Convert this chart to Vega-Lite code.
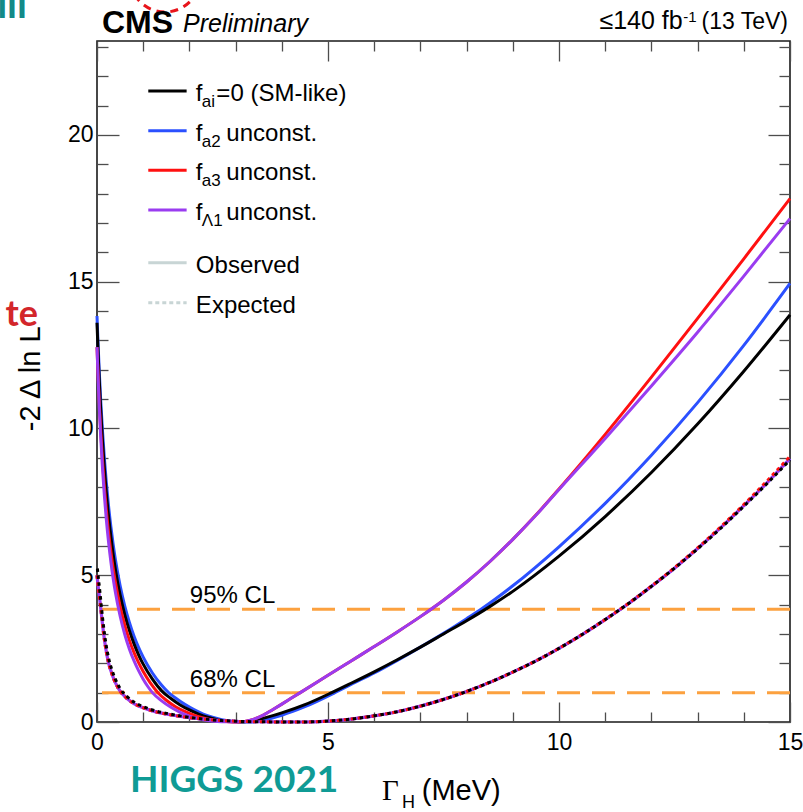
{
  "$schema": "https://vega.github.io/schema/vega-lite/v6.json",
  "width": 693,
  "height": 681,
  "autosize": {"type": "none"},
  "padding": {"left": 97, "top": 41, "right": 13, "bottom": 90},
  "background": "white",
  "config": {
    "view": {"stroke": "#1a1a1a", "strokeWidth": 1.6},
    "axis": {"domain": false, "grid": false, "tickColor": "#4d4d4d", "tickWidth": 1.3, "labelFont": "Liberation Sans", "labelFontSize": 23, "labelColor": "#000", "labelFlush": false, "labelOverlap": false, "labelBound": false},
    "text": {"font": "Liberation Sans", "color": "#000"}
  },
  "data": {"values": [{}]},
  "datasets": {
    "cl": [{"q": 1.0, "lab": "68% CL"}, {"q": 3.84, "lab": "95% CL"}],
    "leg1": [
      {"key": "SM", "sub": "ai", "rest": "=0 (SM-like)"},
      {"key": "a2", "sub": "a2", "rest": "unconst."},
      {"key": "a3", "sub": "a3", "rest": "unconst."},
      {"key": "L1", "sub": "Λ1", "rest": "unconst."}
    ],
    "leg2": [{"key": "Observed"}, {"key": "Expected"}],
    "obsSM": [{"g":0,"q":13.6},{"g":0.02,"q":12.74},{"g":0.05,"q":11.61},{"g":0.08,"q":10.64},{"g":0.12,"q":9.55},{"g":0.16,"q":8.63},{"g":0.2,"q":7.84},{"g":0.25,"q":7.01},{"g":0.3,"q":6.31},{"g":0.35,"q":5.71},{"g":0.4,"q":5.18},{"g":0.5,"q":4.33},{"g":0.6,"q":3.66},{"g":0.7,"q":3.12},{"g":0.8,"q":2.67},{"g":0.9,"q":2.29},{"g":1.0,"q":1.97},{"g":1.2,"q":1.46},{"g":1.4,"q":1.06},{"g":1.6,"q":0.8},{"g":1.8,"q":0.58},{"g":2.0,"q":0.41},{"g":2.2,"q":0.27},{"g":2.4,"q":0.16},{"g":2.6,"q":0.08},{"g":2.8,"q":0.03},{"g":3.0,"q":0.005},{"g":3.1,"q":0},{"g":3.5,"q":0.09},{"g":4.0,"q":0.31},{"g":4.5,"q":0.59},{"g":5.08,"q":1.0},{"g":5.5,"q":1.32},{"g":6.0,"q":1.71},{"g":6.5,"q":2.12},{"g":7.0,"q":2.55},{"g":7.5,"q":3.0},{"g":8.0,"q":3.45},{"g":8.5,"q":3.93},{"g":9.0,"q":4.45},{"g":10,"q":5.65},{"g":11,"q":7.0},{"g":12,"q":8.5},{"g":13,"q":10.15},{"g":14,"q":11.95},{"g":15,"q":13.87}],
    "obsA2": [{"g":0,"q":13.83},{"g":0.02,"q":13.0},{"g":0.05,"q":11.91},{"g":0.08,"q":10.96},{"g":0.12,"q":9.89},{"g":0.16,"q":8.98},{"g":0.2,"q":8.2},{"g":0.25,"q":7.36},{"g":0.3,"q":6.66},{"g":0.35,"q":6.05},{"g":0.4,"q":5.52},{"g":0.5,"q":4.65},{"g":0.6,"q":3.96},{"g":0.7,"q":3.4},{"g":0.8,"q":2.93},{"g":0.9,"q":2.54},{"g":1.0,"q":2.21},{"g":1.2,"q":1.67},{"g":1.4,"q":1.25},{"g":1.55,"q":1.0},{"g":1.7,"q":0.82},{"g":1.9,"q":0.6},{"g":2.1,"q":0.42},{"g":2.3,"q":0.27},{"g":2.5,"q":0.16},{"g":2.7,"q":0.08},{"g":2.9,"q":0.03},{"g":3.1,"q":0.008},{"g":3.3,"q":0},{"g":3.6,"q":0.065},{"g":4.0,"q":0.23},{"g":4.5,"q":0.52},{"g":5.15,"q":1.0},{"g":5.5,"q":1.28},{"g":6.0,"q":1.67},{"g":6.5,"q":2.1},{"g":7.0,"q":2.55},{"g":7.5,"q":3.02},{"g":8.0,"q":3.52},{"g":8.32,"q":3.85},{"g":9,"q":4.64},{"g":10,"q":5.97},{"g":11,"q":7.45},{"g":12,"q":9.09},{"g":13,"q":10.88},{"g":14,"q":12.83},{"g":15,"q":14.94}],
    "obsA3": [{"g":0,"q":12.77},{"g":0.02,"q":11.94},{"g":0.05,"q":10.86},{"g":0.08,"q":9.93},{"g":0.12,"q":8.89},{"g":0.16,"q":8.01},{"g":0.2,"q":7.26},{"g":0.25,"q":6.47},{"g":0.3,"q":5.81},{"g":0.35,"q":5.24},{"g":0.4,"q":4.75},{"g":0.5,"q":3.94},{"g":0.6,"q":3.31},{"g":0.7,"q":2.79},{"g":0.8,"q":2.37},{"g":0.9,"q":2.02},{"g":1.0,"q":1.72},{"g":1.15,"q":1.34},{"g":1.32,"q":1.0},{"g":1.5,"q":0.74},{"g":1.7,"q":0.52},{"g":1.9,"q":0.36},{"g":2.1,"q":0.23},{"g":2.3,"q":0.14},{"g":2.5,"q":0.07},{"g":2.7,"q":0.03},{"g":2.85,"q":0.01},{"g":3.03,"q":0},{"g":3.2,"q":0.021},{"g":3.4,"q":0.099},{"g":3.6,"q":0.236},{"g":3.8,"q":0.42},{"g":4.0,"q":0.61},{"g":4.2,"q":0.806},{"g":4.4,"q":1.0},{"g":5.0,"q":1.59},{"g":5.5,"q":2.08},{"g":6.0,"q":2.57},{"g":6.5,"q":3.07},{"g":7.0,"q":3.59},{"g":7.5,"q":4.15},{"g":8.0,"q":4.77},{"g":8.5,"q":5.46},{"g":9.0,"q":6.22},{"g":9.5,"q":7.05},{"g":10,"q":7.94},{"g":11,"q":9.8},{"g":12,"q":11.75},{"g":13,"q":13.75},{"g":14,"q":15.78},{"g":15,"q":17.83}],
    "obsL1": [{"g":0,"q":12.77},{"g":0.02,"q":11.86},{"g":0.05,"q":10.69},{"g":0.08,"q":9.71},{"g":0.12,"q":8.61},{"g":0.16,"q":7.7},{"g":0.2,"q":6.93},{"g":0.25,"q":6.13},{"g":0.3,"q":5.46},{"g":0.35,"q":4.89},{"g":0.4,"q":4.4},{"g":0.5,"q":3.61},{"g":0.6,"q":2.99},{"g":0.7,"q":2.49},{"g":0.8,"q":2.09},{"g":0.9,"q":1.75},{"g":1.0,"q":1.46},{"g":1.1,"q":1.21},{"g":1.2,"q":1.0},{"g":1.4,"q":0.72},{"g":1.6,"q":0.5},{"g":1.8,"q":0.33},{"g":2.0,"q":0.2},{"g":2.2,"q":0.11},{"g":2.4,"q":0.05},{"g":2.6,"q":0.02},{"g":2.8,"q":0.005},{"g":3.03,"q":0},{"g":3.2,"q":0.021},{"g":3.4,"q":0.099},{"g":3.6,"q":0.236},{"g":3.8,"q":0.42},{"g":4.0,"q":0.61},{"g":4.2,"q":0.806},{"g":4.4,"q":1.0},{"g":5.0,"q":1.59},{"g":5.5,"q":2.08},{"g":6.0,"q":2.57},{"g":6.5,"q":3.07},{"g":7.0,"q":3.59},{"g":7.5,"q":4.15},{"g":8.0,"q":4.77},{"g":8.5,"q":5.46},{"g":9.0,"q":6.22},{"g":9.5,"q":7.04},{"g":10,"q":7.92},{"g":11,"q":9.66},{"g":12,"q":11.45},{"g":13,"q":13.28},{"g":14,"q":15.19},{"g":15,"q":17.15}],
    "expSM": [{"g":0,"q":5.35},{"g":0.03,"q":4.9},{"g":0.065,"q":4.4},{"g":0.1,"q":3.85},{"g":0.14,"q":3.28},{"g":0.19,"q":2.7},{"g":0.245,"q":2.22},{"g":0.32,"q":1.79},{"g":0.4,"q":1.45},{"g":0.5,"q":1.14},{"g":0.65,"q":0.87},{"g":0.8,"q":0.68},{"g":0.93,"q":0.57},{"g":1.2,"q":0.41},{"g":1.65,"q":0.25},{"g":2.0,"q":0.16},{"g":2.37,"q":0.09},{"g":2.7,"q":0.05},{"g":3.0,"q":0.025},{"g":3.5,"q":0.008},{"g":4.0,"q":0.002},{"g":4.4,"q":0},{"g":5.0,"q":0.03},{"g":5.5,"q":0.1},{"g":6.0,"q":0.21},{"g":6.5,"q":0.35},{"g":7.0,"q":0.54},{"g":7.5,"q":0.77},{"g":8.0,"q":1.04},{"g":8.5,"q":1.35},{"g":9.0,"q":1.7},{"g":9.5,"q":2.08},{"g":10,"q":2.51},{"g":10.5,"q":2.98},{"g":11,"q":3.49},{"g":11.5,"q":4.03},{"g":12,"q":4.62},{"g":12.5,"q":5.24},{"g":13,"q":5.9},{"g":13.5,"q":6.6},{"g":14,"q":7.35},{"g":14.5,"q":8.12},{"g":15,"q":8.93}],
    "expA3": [{"g":0,"q":5.0},{"g":0.03,"q":4.55},{"g":0.065,"q":4.1},{"g":0.1,"q":3.6},{"g":0.14,"q":3.05},{"g":0.19,"q":2.5},{"g":0.245,"q":2.05},{"g":0.32,"q":1.65},{"g":0.4,"q":1.33},{"g":0.5,"q":1.05},{"g":0.65,"q":0.8},{"g":0.8,"q":0.63},{"g":0.93,"q":0.53},{"g":1.2,"q":0.38},{"g":1.65,"q":0.23},{"g":2.0,"q":0.15},{"g":2.37,"q":0.09},{"g":2.7,"q":0.05},{"g":3.0,"q":0.025},{"g":3.5,"q":0.008},{"g":4.0,"q":0.002},{"g":4.4,"q":0},{"g":5.0,"q":0.03},{"g":5.5,"q":0.1},{"g":6.0,"q":0.21},{"g":6.5,"q":0.35},{"g":7.0,"q":0.54},{"g":7.5,"q":0.77},{"g":8.0,"q":1.04},{"g":8.5,"q":1.35},{"g":9.0,"q":1.7},{"g":9.5,"q":2.08},{"g":10,"q":2.51},{"g":10.5,"q":2.98},{"g":11,"q":3.49},{"g":11.5,"q":4.04},{"g":12,"q":4.63},{"g":12.5,"q":5.26},{"g":13,"q":5.93},{"g":13.5,"q":6.65},{"g":14,"q":7.41},{"g":14.5,"q":8.21},{"g":15,"q":9.05}],
    "expL1": [{"g":0,"q":5.0},{"g":0.03,"q":4.55},{"g":0.065,"q":4.1},{"g":0.1,"q":3.6},{"g":0.14,"q":3.05},{"g":0.19,"q":2.5},{"g":0.245,"q":2.05},{"g":0.32,"q":1.65},{"g":0.4,"q":1.33},{"g":0.5,"q":1.05},{"g":0.65,"q":0.8},{"g":0.8,"q":0.63},{"g":0.93,"q":0.53},{"g":1.2,"q":0.38},{"g":1.65,"q":0.23},{"g":2.0,"q":0.15},{"g":2.37,"q":0.09},{"g":2.7,"q":0.05},{"g":3.0,"q":0.025},{"g":3.5,"q":0.008},{"g":4.0,"q":0.002},{"g":4.4,"q":0},{"g":5.0,"q":0.03},{"g":5.5,"q":0.1},{"g":6.0,"q":0.21},{"g":6.5,"q":0.35},{"g":7.0,"q":0.54},{"g":7.5,"q":0.77},{"g":8.0,"q":1.04},{"g":8.5,"q":1.35},{"g":9.0,"q":1.7},{"g":9.5,"q":2.08},{"g":10,"q":2.51},{"g":10.5,"q":2.98},{"g":11,"q":3.49},{"g":11.5,"q":4.03},{"g":12,"q":4.62},{"g":12.5,"q":5.24},{"g":13,"q":5.91},{"g":13.5,"q":6.62},{"g":14,"q":7.37},{"g":14.5,"q":8.15},{"g":15,"q":8.97}]
  },
  "resolve": {"scale": {"y": "independent"}, "axis": {"x": "independent", "y": "independent"}},
  "layer": [
    {
      "data": {"name": "cl"},
      "mark": {"type": "rule", "color": "#fca13f", "strokeWidth": 3, "strokeDash": [23, 12]},
      "encoding": {
        "y": {"field": "q", "type": "quantitative", "scale": {"domain": [0, 23.2], "nice": false, "zero": false},
          "axis": {"orient": "left", "values": [0,1,2,3,4,5,6,7,8,9,10,11,12,13,14,15,16,17,18,19,20,21,22,23], "labelExpr": "datum.value % 5 === 0 ? datum.label : ''", "tickSize": {"condition": {"test": "datum.value % 5 === 0", "value": -22}, "value": -11}, "labelPadding": 26, "title": null}}
      }
    },
    {
      "data": {"name": "cl"},
      "mark": {"type": "text", "fontSize": 24, "align": "left", "baseline": "alphabetic", "dy": -6},
      "encoding": {
        "x": {"datum": 2.01, "type": "quantitative", "scale": {"domain": [0, 15], "nice": false, "zero": false}, "axis": null},
        "y": {"field": "q", "type": "quantitative", "scale": {"domain": [0, 23.2], "nice": false, "zero": false},
          "axis": {"orient": "right", "values": [0,1,2,3,4,5,6,7,8,9,10,11,12,13,14,15,16,17,18,19,20,21,22,23], "labels": false, "tickSize": {"condition": {"test": "datum.value % 5 === 0", "value": -22}, "value": -11}, "title": null}},
        "text": {"field": "lab"}
      }
    },
    {
      "data": {"name": "obsA2"},
      "mark": {"type": "line", "color": "#2b50ff", "strokeWidth": 3, "interpolate": "monotone"},
      "encoding": {
        "x": {"field": "g", "type": "quantitative", "scale": {"domain": [0, 15], "nice": false, "zero": false},
          "axis": {"orient": "bottom", "values": [0,1,2,3,4,5,6,7,8,9,10,11,12,13,14,15], "labelExpr": "datum.value % 5 === 0 ? datum.label : ''", "tickSize": {"condition": {"test": "datum.value % 5 === 0", "value": -20}, "value": -10}, "labelPadding": 29, "title": null}},
        "y": {"field": "q", "type": "quantitative", "scale": {"domain": [0, 23.2], "nice": false, "zero": false}, "axis": null}
      }
    },
    {
      "data": {"name": "obsSM"},
      "mark": {"type": "line", "color": "#000000", "strokeWidth": 3, "interpolate": "monotone"},
      "encoding": {
        "x": {"field": "g", "type": "quantitative", "scale": {"domain": [0, 15], "nice": false, "zero": false},
          "axis": {"orient": "top", "values": [0,1,2,3,4,5,6,7,8,9,10,11,12,13,14,15], "labels": false, "tickSize": {"condition": {"test": "datum.value % 5 === 0", "value": -20}, "value": -10}, "title": null}},
        "y": {"field": "q", "type": "quantitative", "scale": {"domain": [0, 23.2], "nice": false, "zero": false}, "axis": null}
      }
    },
    {
      "data": {"name": "obsA3"},
      "mark": {"type": "line", "color": "#ff1010", "strokeWidth": 3, "interpolate": "monotone"},
      "encoding": {
        "x": {"field": "g", "type": "quantitative", "scale": {"domain": [0, 15], "nice": false, "zero": false}, "axis": null},
        "y": {"field": "q", "type": "quantitative", "scale": {"domain": [0, 23.2], "nice": false, "zero": false}, "axis": null}
      }
    },
    {
      "data": {"name": "obsL1"},
      "mark": {"type": "line", "color": "#9a3cf0", "strokeWidth": 3, "interpolate": "monotone"},
      "encoding": {
        "x": {"field": "g", "type": "quantitative", "scale": {"domain": [0, 15], "nice": false, "zero": false}, "axis": null},
        "y": {"field": "q", "type": "quantitative", "scale": {"domain": [0, 23.2], "nice": false, "zero": false}, "axis": null}
      }
    },
    {
      "data": {"name": "expL1"},
      "mark": {"type": "line", "color": "#2b50ff", "strokeWidth": 3, "strokeDash": [3.5, 3.5], "interpolate": "monotone"},
      "encoding": {
        "x": {"field": "g", "type": "quantitative", "scale": {"domain": [0, 15], "nice": false, "zero": false}, "axis": null},
        "y": {"field": "q", "type": "quantitative", "scale": {"domain": [0, 23.2], "nice": false, "zero": false}, "axis": null}
      }
    },
    {
      "data": {"name": "expL1"},
      "mark": {"type": "line", "color": "#9a3cf0", "strokeWidth": 3.2, "interpolate": "monotone"},
      "encoding": {
        "x": {"field": "g", "type": "quantitative", "scale": {"domain": [0, 15], "nice": false, "zero": false}, "axis": null},
        "y": {"field": "q", "type": "quantitative", "scale": {"domain": [0, 23.2], "nice": false, "zero": false}, "axis": null}
      }
    },
    {
      "data": {"name": "expA3"},
      "mark": {"type": "line", "color": "#ff1010", "strokeWidth": 3, "strokeDash": [3.5, 3.5], "interpolate": "monotone"},
      "encoding": {
        "x": {"field": "g", "type": "quantitative", "scale": {"domain": [0, 15], "nice": false, "zero": false}, "axis": null},
        "y": {"field": "q", "type": "quantitative", "scale": {"domain": [0, 23.2], "nice": false, "zero": false}, "axis": null}
      }
    },
    {
      "data": {"name": "expSM"},
      "mark": {"type": "line", "color": "#000000", "strokeWidth": 3, "strokeDash": [3.5, 3.5], "strokeDashOffset": 3.5, "interpolate": "monotone"},
      "encoding": {
        "x": {"field": "g", "type": "quantitative", "scale": {"domain": [0, 15], "nice": false, "zero": false}, "axis": null},
        "y": {"field": "q", "type": "quantitative", "scale": {"domain": [0, 23.2], "nice": false, "zero": false}, "axis": null}
      }
    },
    {
      "data": {"name": "leg1"},
      "mark": {"type": "rule", "strokeWidth": 3},
      "encoding": {
        "x": {"datum": 1.11, "type": "quantitative", "scale": {"domain": [0, 15], "nice": false, "zero": false}, "axis": null},
        "x2": {"datum": 1.94},
        "y": {"field": "key", "type": "nominal", "scale": {"type": "point", "domain": ["SM", "a2", "a3", "L1"], "range": [50, 169], "padding": 0}, "axis": null},
        "color": {"field": "key", "type": "nominal", "scale": {"domain": ["SM", "a2", "a3", "L1"], "range": ["#000000", "#2b50ff", "#ff1010", "#9a3cf0"]}, "legend": null}
      }
    },
    {
      "data": {"name": "leg1"},
      "mark": {"type": "text", "text": "f", "fontSize": 24, "align": "left", "baseline": "alphabetic", "dy": 10},
      "encoding": {
        "x": {"datum": 2.14, "type": "quantitative", "scale": {"domain": [0, 15], "nice": false, "zero": false}, "axis": null},
        "y": {"field": "key", "type": "nominal", "scale": {"type": "point", "domain": ["SM", "a2", "a3", "L1"], "range": [50, 169], "padding": 0}, "axis": null}
      }
    },
    {
      "data": {"name": "leg1"},
      "mark": {"type": "text", "fontSize": 17, "align": "left", "baseline": "alphabetic", "dx": 6, "dy": 16},
      "encoding": {
        "x": {"datum": 2.14, "type": "quantitative", "scale": {"domain": [0, 15], "nice": false, "zero": false}, "axis": null},
        "y": {"field": "key", "type": "nominal", "scale": {"type": "point", "domain": ["SM", "a2", "a3", "L1"], "range": [50, 169], "padding": 0}, "axis": null},
        "text": {"field": "sub"}
      }
    },
    {
      "data": {"name": "leg1"},
      "transform": [{"filter": "datum.key === 'SM'"}],
      "mark": {"type": "text", "fontSize": 24, "align": "left", "baseline": "alphabetic", "dx": 20.5, "dy": 10},
      "encoding": {
        "x": {"datum": 2.14, "type": "quantitative", "scale": {"domain": [0, 15], "nice": false, "zero": false}, "axis": null},
        "y": {"field": "key", "type": "nominal", "scale": {"type": "point", "domain": ["SM", "a2", "a3", "L1"], "range": [50, 169], "padding": 0}, "axis": null},
        "text": {"field": "rest"}
      }
    },
    {
      "data": {"name": "leg1"},
      "transform": [{"filter": "datum.key !== 'SM'"}],
      "mark": {"type": "text", "fontSize": 24, "align": "left", "baseline": "alphabetic", "dx": 30.5, "dy": 10},
      "encoding": {
        "x": {"datum": 2.14, "type": "quantitative", "scale": {"domain": [0, 15], "nice": false, "zero": false}, "axis": null},
        "y": {"field": "key", "type": "nominal", "scale": {"type": "point", "domain": ["SM", "a2", "a3", "L1"], "range": [50, 169], "padding": 0}, "axis": null},
        "text": {"field": "rest"}
      }
    },
    {
      "data": {"name": "leg2"},
      "mark": {"type": "rule", "strokeWidth": 3, "color": "#c8d5d5"},
      "encoding": {
        "x": {"datum": 1.11, "type": "quantitative", "scale": {"domain": [0, 15], "nice": false, "zero": false}, "axis": null},
        "x2": {"datum": 1.94},
        "y": {"field": "key", "type": "nominal", "scale": {"type": "point", "domain": ["Observed", "Expected"], "range": [221.7, 261.7], "padding": 0}, "axis": null},
        "strokeDash": {"field": "key", "type": "nominal", "scale": {"domain": ["Observed", "Expected"], "range": [[1, 0], [4, 3]]}, "legend": null}
      }
    },
    {
      "data": {"name": "leg2"},
      "mark": {"type": "text", "fontSize": 24, "align": "left", "baseline": "alphabetic", "dy": 10},
      "encoding": {
        "x": {"datum": 2.14, "type": "quantitative", "scale": {"domain": [0, 15], "nice": false, "zero": false}, "axis": null},
        "y": {"field": "key", "type": "nominal", "scale": {"type": "point", "domain": ["Observed", "Expected"], "range": [221.7, 261.7], "padding": 0}, "axis": null},
        "text": {"field": "key"}
      }
    },
    {
      "mark": {"type": "point", "shape": "circle", "filled": false, "size": 4984, "color": "#e8141b", "strokeWidth": 3, "strokeDash": [8, 6], "opacity": 1},
      "encoding": {
        "x": {"datum": 1.472, "type": "quantitative", "scale": {"domain": [0, 15], "nice": false, "zero": false}, "axis": null},
        "y": {"datum": 25.39, "type": "quantitative", "scale": {"domain": [0, 23.2], "nice": false, "zero": false}, "axis": null}
      }
    },
    {
      "mark": {"type": "text", "text": "CMS", "fontSize": 32, "fontWeight": "bold", "align": "left", "baseline": "alphabetic"},
      "encoding": {
        "x": {"datum": 0.108, "type": "quantitative", "scale": {"domain": [0, 15], "nice": false, "zero": false}, "axis": null},
        "y": {"datum": 23.47, "type": "quantitative", "scale": {"domain": [0, 23.2], "nice": false, "zero": false}, "axis": null}
      }
    },
    {
      "mark": {"type": "text", "text": "Preliminary", "fontSize": 25, "fontStyle": "italic", "align": "left", "baseline": "alphabetic"},
      "encoding": {
        "x": {"datum": 1.861, "type": "quantitative", "scale": {"domain": [0, 15], "nice": false, "zero": false}, "axis": null},
        "y": {"datum": 23.51, "type": "quantitative", "scale": {"domain": [0, 23.2], "nice": false, "zero": false}, "axis": null}
      }
    },
    {
      "mark": {"type": "text", "text": "≤140 fb", "fontSize": 25, "align": "right", "baseline": "alphabetic"},
      "encoding": {
        "x": {"datum": 12.677, "type": "quantitative", "scale": {"domain": [0, 15], "nice": false, "zero": false}, "axis": null},
        "y": {"datum": 23.625, "type": "quantitative", "scale": {"domain": [0, 23.2], "nice": false, "zero": false}, "axis": null}
      }
    },
    {
      "mark": {"type": "text", "text": "-1", "fontSize": 15, "align": "left", "baseline": "alphabetic"},
      "encoding": {
        "x": {"datum": 12.69, "type": "quantitative", "scale": {"domain": [0, 15], "nice": false, "zero": false}, "axis": null},
        "y": {"datum": 23.857, "type": "quantitative", "scale": {"domain": [0, 23.2], "nice": false, "zero": false}, "axis": null}
      }
    },
    {
      "mark": {"type": "text", "text": "(13 TeV)", "fontSize": 23, "align": "right", "baseline": "alphabetic"},
      "encoding": {
        "x": {"datum": 14.957, "type": "quantitative", "scale": {"domain": [0, 15], "nice": false, "zero": false}, "axis": null},
        "y": {"datum": 23.625, "type": "quantitative", "scale": {"domain": [0, 23.2], "nice": false, "zero": false}, "axis": null}
      }
    },
    {
      "mark": {"type": "text", "text": "-2 Δ ln L", "fontSize": 29, "angle": 270, "align": "center", "baseline": "alphabetic"},
      "encoding": {
        "x": {"datum": -1.234, "type": "quantitative", "scale": {"domain": [0, 15], "nice": false, "zero": false}, "axis": null},
        "y": {"datum": 11.69, "type": "quantitative", "scale": {"domain": [0, 23.2], "nice": false, "zero": false}, "axis": null}
      }
    },
    {
      "mark": {"type": "text", "text": "Γ", "font": "Liberation Serif", "fontSize": 29, "align": "left", "baseline": "alphabetic"},
      "encoding": {
        "x": {"datum": 6.17, "type": "quantitative", "scale": {"domain": [0, 15], "nice": false, "zero": false}, "axis": null},
        "y": {"datum": -2.66, "type": "quantitative", "scale": {"domain": [0, 23.2], "nice": false, "zero": false}, "axis": null}
      }
    },
    {
      "mark": {"type": "text", "text": "H", "fontSize": 18, "align": "left", "baseline": "alphabetic"},
      "encoding": {
        "x": {"datum": 6.6, "type": "quantitative", "scale": {"domain": [0, 15], "nice": false, "zero": false}, "axis": null},
        "y": {"datum": -2.93, "type": "quantitative", "scale": {"domain": [0, 23.2], "nice": false, "zero": false}, "axis": null}
      }
    },
    {
      "mark": {"type": "text", "text": "(MeV)", "fontSize": 29, "align": "left", "baseline": "alphabetic"},
      "encoding": {
        "x": {"datum": 7.03, "type": "quantitative", "scale": {"domain": [0, 15], "nice": false, "zero": false}, "axis": null},
        "y": {"datum": -2.66, "type": "quantitative", "scale": {"domain": [0, 23.2], "nice": false, "zero": false}, "axis": null}
      }
    },
    {
      "mark": {"type": "text", "text": "HIGGS 2021", "font": "Lato", "fontWeight": "bold", "fontSize": 37, "color": "#0f9b95", "align": "left", "baseline": "alphabetic"},
      "encoding": {
        "x": {"datum": 0.714, "type": "quantitative", "scale": {"domain": [0, 15], "nice": false, "zero": false}, "axis": null},
        "y": {"datum": -2.385, "type": "quantitative", "scale": {"domain": [0, 23.2], "nice": false, "zero": false}, "axis": null}
      }
    },
    {
      "mark": {"type": "text", "text": "te", "font": "Lato", "fontWeight": "bold", "fontSize": 36, "color": "#d3262b", "align": "right", "baseline": "alphabetic"},
      "encoding": {
        "x": {"datum": -1.277, "type": "quantitative", "scale": {"domain": [0, 15], "nice": false, "zero": false}, "axis": null},
        "y": {"datum": 13.49, "type": "quantitative", "scale": {"domain": [0, 23.2], "nice": false, "zero": false}, "axis": null}
      }
    },
    {
      "mark": {"type": "text", "text": "lll", "font": "Lato", "fontWeight": "bold", "fontSize": 40, "color": "#138a88", "align": "right", "baseline": "alphabetic"},
      "encoding": {
        "x": {"datum": -1.515, "type": "quantitative", "scale": {"domain": [0, 15], "nice": false, "zero": false}, "axis": null},
        "y": {"datum": 23.98, "type": "quantitative", "scale": {"domain": [0, 23.2], "nice": false, "zero": false}, "axis": null}
      }
    }
  ]
}
